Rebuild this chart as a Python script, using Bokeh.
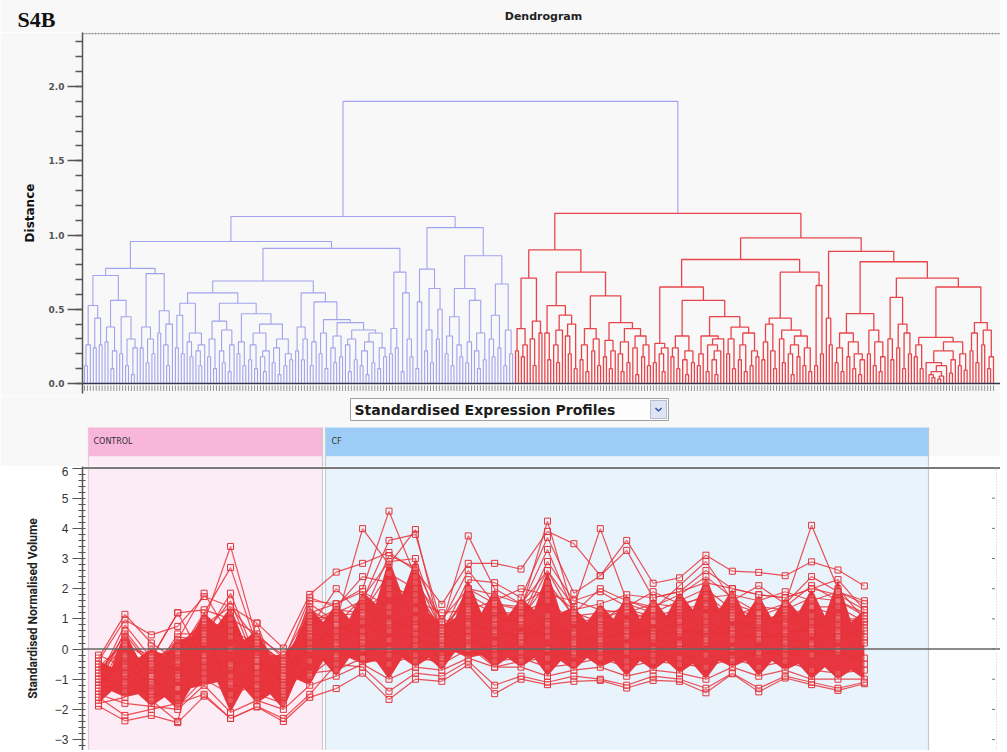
from bokeh.plotting import figure
from bokeh.layouts import column, row
from bokeh.models import FixedTicker, Span, Range1d, PrintfTickFormatter
from bokeh.embed import file_html
from bokeh.resources import INLINE
from bokeh.core.properties import value

# ---------------- DATA: dendrogram, merge height between adjacent leaves ----------------
blue_s1 = [0.12, 0.26, 0.525, 0.24, 0.44, 0.26]
blue_s2 = [0.28, 0.38, 0.10, 0.22, 0.56, 0.20, 0.45, 0.12, 0.30, 0.06, 0.24]
blue_s3 = [0.24, 0.38, 0.14, 0.30, 0.20, 0.74, 0.34, 0.49, 0.26, 0.12, 0.40]
blue_s4 = [0.24, 0.46, 0.20, 0.54, 0.28, 0.18, 0.34, 0.22, 0.12, 0.26]
blue_s5 = [0.18, 0.30, 0.10, 0.42, 0.22, 0.14, 0.36, 0.08, 0.26, 0.54, 0.20, 0.28, 0.12, 0.47,
           0.16, 0.26, 0.10, 0.34, 0.18, 0.08, 0.22, 0.40, 0.14, 0.24, 0.06, 0.30, 0.12, 0.20, 0.16]
blue_s6 = [0.22, 0.38, 0.16, 0.30, 0.61, 0.12, 0.28, 0.55, 0.20, 0.34, 0.10, 0.43, 0.24, 0.14,
           0.32, 0.18, 0.41, 0.26, 0.08, 0.30, 0.16, 0.36, 0.12, 0.22, 0.06, 0.28, 0.14, 0.34,
           0.10, 0.24, 0.18]
blue_s7 = [0.20, 0.37, 0.24, 0.75, 0.08, 0.61, 0.30, 0.18]
blue_s8 = [0.10, 0.55, 0.77, 0.22, 0.36, 0.14, 0.64, 0.30, 0.50]
blue_s9 = [0.20, 0.32, 0.12, 0.45, 0.26, 0.18, 0.64, 0.14, 0.28, 0.56, 0.22, 0.10, 0.34, 0.16,
           0.86, 0.30, 0.18, 0.46, 0.24, 0.67, 0.12, 0.36, 0.20]
blue_joins = [0.727, 0.775, 0.956, 0.61, 0.69, 0.91, 1.125, 1.05]

root_height = 1.90

red_s1 = [0.22, 0.37, 0.18, 0.26]
red_s2 = [0.30, 0.12, 0.42, 0.34]
red_s3 = [0.34, 0.16]
red_s4 = [0.26, 0.14, 0.36, 0.46, 0.32, 0.20, 0.40, 0.10]
red_s5 = [0.16, 0.26, 0.08, 0.37, 0.22, 0.30, 0.12]
red_s6 = [0.18, 0.29, 0.10, 0.22]
red_s7 = [0.20, 0.08, 0.28, 0.14, 0.37, 0.24, 0.06, 0.32, 0.18, 0.26, 0.12]
red_s8 = [0.14, 0.27, 0.20, 0.08, 0.24]
red_s9 = [0.18, 0.24, 0.10, 0.32, 0.16, 0.06, 0.22, 0.14]
red_s10 = [0.12, 0.20, 0.32, 0.08, 0.26, 0.16, 0.06, 0.22, 0.30]
red_s11 = [0.20, 0.30, 0.10, 0.38, 0.16, 0.26, 0.08, 0.34, 0.12, 0.22, 0.18]
red_s12 = [0.16, 0.28, 0.40, 0.22, 0.10, 0.44, 0.30, 0.14, 0.36, 0.20, 0.06, 0.26, 0.18, 0.32,
           0.12, 0.24, 0.08]
red_s13 = [0.12, 0.66, 0.20]
red_s14 = [0.44, 0.26]
red_s15 = [0.14, 0.24, 0.08, 0.34, 0.18, 0.28, 0.10, 0.20, 0.06, 0.16]
red_s16 = [0.20, 0.36, 0.12, 0.28, 0.08, 0.18]
red_s17 = [0.30, 0.16, 0.58, 0.24, 0.40, 0.10, 0.34, 0.20]
red_s18 = [0.18, 0.26, 0.10, 0.31, 0.14, 0.06, 0.04, 0.08, 0.03, 0.05, 0.12, 0.22, 0.07, 0.16,
           0.28, 0.12, 0.20, 0.09]
red_s19 = [0.22, 0.34, 0.14, 0.41, 0.26, 0.36, 0.10, 0.18]
red_joins = [0.71, 0.90, 0.525, 0.75, 0.59, 0.41, 1.145, 0.65, 0.56, 0.45, 0.835, 0.75, 0.98,
             0.89, 0.47, 0.82, 0.71, 0.65]

# ---------------- DATA: standardised expression profiles ----------------
groups = ["CONTROL", "CF"]
n_control = 9
n_cf = 21

core_hi = [-0.4, 0.6, 0.0, 0.3, 1.2, 1.4, 0.6, -0.2, 1.4, 1.5, 1.9, 3.0, 3.0, 0.8, 2.3, 2.0, 1.7,
           2.6, 1.4, 1.5, 1.8, 1.7, 1.9, 2.4, 2.0, 1.8, 1.7, 2.0, 2.3, 1.3]
core_lo = [-1.8, -1.6, -1.9, -2.0, -1.2, -2.1, -1.8, -2.0, -1.2, -0.9, -0.5, -1.0, -0.6, -0.7,
           -0.3, -0.6, -0.6, -0.9, -0.7, -0.6, -0.9, -0.7, -0.8, -1.0, -0.6, -0.9, -0.7, -1.0,
           -1.0, -1.0]
mid_hi = [-0.6, -0.3, -0.2, 0.4, 0.8, 0.3, -0.2, 0.3, 0.9, 1.0, 1.5, 1.8, 1.2, 1.0, 1.2, 1.1, 1.3,
          1.2, 0.9, 1.0, 1.0, 1.1, 1.3, 1.3, 1.1, 1.0, 1.2, 1.1, 0.9]
mid_lo = [-1.4, -1.5, -1.6, -1.3, -1.1, -1.3, -1.5, -1.0, -0.4, -0.3, -0.4, -0.3, -0.3, -0.1,
          -0.2, -0.3, -0.3, -0.4, -0.3, -0.4, -0.4, -0.4, -0.5, -0.4, -0.4, -0.4, -0.5, -0.6,
          -0.7]

profiles = [
    [-0.6, 0.2, -0.4, 0.1, 0.9, 3.4, 0.3, -0.5, 1.2, 1.5, 2.0, 4.57, 2.4, 0.6, 1.4, 0.9, 1.0, 2.2,
     1.1, 1.2, 1.3, 0.9, 1.2, 1.4, 1.0, 0.8, 0.9, 1.4, 1.1, 0.8],
    [-0.9, 0.5, -0.6, -0.2, 1.2, 2.7, 0.1, -0.8, 1.5, 0.9, 3.99, 2.8, 3.96, 0.4, 2.0, 1.5, 1.3,
     4.24, 1.2, 0.9, 1.5, 1.2, 1.6, 2.0, 1.3, 1.1, 1.4, 2.1, 1.6, 1.2],
    [-1.2, -0.3, -1.0, -0.8, 0.4, 1.85, -0.4, -1.1, 0.8, 1.2, 1.6, 3.6, 3.8, 0.8, 3.75, 2.0, 1.5,
     2.6, 1.4, 3.99, 1.6, 1.4, 1.8, 2.4, 1.7, 1.2, 1.5, 4.1, 2.0, 1.0],
    [-0.4, 0.97, 0.47, 0.75, 1.74, 1.4, 0.86, 0.03, 1.81, 2.55, 2.84, 3.2, 2.6, 1.48, 2.84, 2.84,
     2.65, 3.9, 3.49, 2.43, 3.6, 2.18, 2.36, 3.11, 2.58, 2.54, 2.43, 2.89, 2.62, 2.09],
    [-1.89, -2.38, -2.2, -2.44, -1.56, -2.3, -1.92, -2.4, -1.6, -1.31, -0.8, -1.67, -1.0, -1.07,
     -0.52, -1.48, -1.0, -1.18, -1.07, -1.04, -1.29, -1.04, -1.07, -1.45, -0.82, -1.42, -0.96,
     -1.18, -1.37, -1.15],
    [-1.0, 0.8, -0.3, 1.2, 1.3, 1.0, 0.5, -0.3, 1.3, 0.8, 1.7, 2.9, 3.0, 0.5, 2.3, 2.2, 1.7, 3.7,
     1.85, 2.43, 3.27, 1.7, 1.9, 2.6, 2.0, 1.8, 1.7, 2.0, 2.3, 1.3],
    [-1.5, -1.8, -1.9, -2.0, -1.2, -2.1, -1.7, -2.0, -1.2, -0.9, -0.5, -1.0, -0.6, -0.7, -0.3,
     -0.6, -0.6, -0.9, -0.7, -0.6, -0.9, -0.7, -0.8, -1.0, -0.6, -0.9, -0.7, -1.0, -1.0, -1.0],
    [-1.1, -0.5, -1.2, -1.0, 0.2, 0.0, -0.8, -1.3, 0.5, 0.4, 0.6, 1.2, 1.0, 0.2, 0.9, 0.5, 0.5,
     1.1, 0.3, 0.4, 0.5, 0.6, 0.5, 0.9, 0.6, 0.4, 0.5, 0.7, 0.8, 0.3],
    [-0.7, 0.2, -0.8, -0.5, 0.8, 1.4, 0.3, -0.6, 1.0, 1.1, 1.2, 2.0, 1.8, 0.7, 1.6, 1.2, 1.2, 1.6,
     0.9, 1.0, 1.3, 1.1, 1.3, 1.5, 1.2, 1.0, 1.1, 1.4, 1.4, 0.9],
    [-1.3, -1.2, -1.5, -1.6, -0.6, -1.2, -1.3, -1.6, -0.4, -0.3, 0.0, -0.2, 0.1, -0.2, 0.3, 0.0,
     -0.1, 0.0, -0.2, -0.1, -0.1, 0.0, 0.1, 0.2, 0.0, -0.2, 0.0, 0.1, -0.1, -0.3],
    [-1.7, -0.9, -1.6, -1.3, -0.3, -0.6, -1.5, -1.8, 0.2, 0.6, 0.9, 0.3, 0.5, -0.4, 0.6, 0.2, 0.8,
     0.4, 0.6, 0.2, 0.1, 0.9, 0.7, 0.4, 1.0, 0.6, 0.3, 0.2, 0.5, 0.6],
    [-0.3, 1.15, 0.2, -0.4, 0.6, 0.8, -0.2, -0.9, 1.6, 1.5, 1.9, 1.4, 2.2, 1.0, 2.0, 1.8, 1.5, 2.0,
     1.3, 1.5, 1.8, 1.7, 1.9, 2.2, 2.0, 1.8, 1.7, 2.0, 1.8, 1.3],
    [-1.6, -2.2, -2.0, -1.8, -1.5, -2.3, -1.9, -2.3, -1.5, -0.5, -0.6, -1.4, -0.8, -0.9, -0.4,
     -1.2, -0.9, -1.1, -0.9, -1.0, -1.2, -0.9, -1.0, -1.3, -0.8, -1.3, -0.9, -1.1, -1.3, -1.1],
    [-0.9, -1.4, -0.3, 1.2, -0.4, -0.9, 0.86, -1.5, 0.4, 0.1, -0.3, 0.8, 0.3, 0.1, 0.4, -0.2, 0.3,
     0.6, 0.1, 0.3, 0.6, 0.3, 0.2, 0.7, 0.3, 0.5, 0.2, 0.9, 0.6, 0.4],
    [-1.4, 0.4, -1.7, -2.4, 0.9, -1.7, -0.6, -0.5, 1.1, 0.2, 1.4, 0.6, 0.8, 0.9, 1.1, 0.8, 0.2,
     0.9, 0.5, 0.8, 0.4, 0.5, 1.0, 0.3, 0.7, 0.9, 1.2, 0.5, 0.3, 0.7],
    [-0.2, -0.6, -1.1, -1.3, -0.8, 1.2, -1.0, -1.4, 0.6, 1.0, 0.3, 1.8, 1.3, 0.4, 1.2, 1.0, 0.9,
     2.6, 1.0, 0.7, 0.9, 1.3, 0.9, 1.1, 1.5, 1.2, 0.8, 1.1, 1.0, 1.0],
    [-1.8, -1.6, -0.9, -1.9, -1.0, -1.5, -1.2, -1.0, -0.8, -0.7, -0.3, -0.5, -0.2, -0.5, 0.0, -0.4,
     -0.3, -0.6, -0.5, -0.3, -0.6, -0.4, -0.5, -0.6, -0.3, -0.6, -0.4, -0.7, -0.8, -0.7],
    [-1.2, 0.6, -0.5, 0.3, 1.85, 0.4, -0.3, -1.2, 0.9, 1.3, 1.2, 2.5, 2.0, 0.6, 1.8, 1.3, 1.0, 2.9,
     1.6, 1.3, 1.2, 1.5, 1.4, 1.8, 1.1, 1.4, 1.3, 1.7, 1.6, 1.1],
    [-1.0, -1.1, 0.1, -0.9, -0.2, -0.5, -0.4, -0.7, 0.0, 0.8, 0.4, 0.9, 0.7, 0.3, 0.8, 0.6, 0.4,
     0.8, 0.2, 0.6, 0.8, 0.4, 0.6, 0.6, 0.5, 0.3, 0.6, 0.6, 0.4, 0.2],
    [-0.5, -0.8, -1.4, 0.4, 0.3, -1.1, 0.4, -0.2, -0.9, -0.2, 0.2, 0.0, -0.4, -0.3, 0.1, -0.6,
     -0.4, -0.3, -0.1, 0.0, -0.4, -0.2, -0.3, -0.2, -0.4, -0.1, -0.2, -0.2, 0.0, -0.5],
    [-0.8, 0.1, -0.2, -0.1, 1.0, 0.6, 0.2, -0.4, 1.7, 1.4, 2.4, 2.2, 1.6, 1.2, 1.3, 1.6, 2.0, 1.8,
     1.6, 1.9, 1.4, 1.9, 1.5, 1.7, 1.8, 1.6, 1.9, 1.6, 1.9, 1.6],
    [-1.3, -0.2, -0.9, 0.5, 0.5, 1.6, -0.6, -0.9, 0.7, 2.0, 1.1, 3.1, 2.7, 0.9, 2.6, 1.5, 1.4, 3.3,
     1.2, 2.0, 1.6, 1.3, 2.1, 2.9, 1.6, 2.1, 1.5, 2.4, 1.9, 1.5],
]

dist_ticks = [0.0, 0.5, 1.0, 1.5, 2.0]
vol_ticks = [-3, -2, -1, 0, 1, 2, 3, 4, 5, 6]

# ---------------- build dendrogram ----------------
def assemble(segs, joins):
    out = []
    for i, s in enumerate(segs):
        out += s
        if i < len(joins):
            out.append(joins[i])
    return out

blue_gaps = assemble([blue_s1, blue_s2, blue_s3, blue_s4, blue_s5, blue_s6, blue_s7, blue_s8,
                      blue_s9], blue_joins)
red_gaps = assemble([red_s1, red_s2, red_s3, red_s4, red_s5, red_s6, red_s7, red_s8, red_s9,
                     red_s10, red_s11, red_s12, red_s13, red_s14, red_s15, red_s16, red_s17,
                     red_s18, red_s19], red_joins)
gaps = blue_gaps + [root_height] + red_gaps
n_leaves = len(gaps) + 1
n_blue = len(blue_gaps) + 1

bxs, bys, rxs, rys = [], [], [], []

def build(lo, hi):
    if lo == hi:
        return float(lo), 0.0
    k = max(range(lo, hi), key=lambda j: gaps[j])
    lx, lh = build(lo, k)
    rx, rh = build(k + 1, hi)
    h = gaps[k]
    if lo < n_blue:
        bxs.append([lx, lx, rx, rx]); bys.append([lh, h, h, rh])
    else:
        rxs.append([lx, lx, rx, rx]); rys.append([lh, h, h, rh])
    return (lx + rx) / 2.0, h

build(0, n_leaves - 1)

W = 1000
LB = 82
BG = "#f8f8f8"
TOP = 32          # height of the title strip

# ---- title strip (two small canvases side by side) ----
def strip(width, x0, x1):
    f = figure(width=width, height=TOP, output_backend="svg", toolbar_location=None,
               x_axis_type=None, y_axis_type=None, x_range=Range1d(x0, x1),
               y_range=Range1d(0, TOP), min_border_left=0, min_border_right=0,
               min_border_top=0, min_border_bottom=0, background_fill_color=BG,
               border_fill_color=BG, outline_line_color=None)
    f.grid.visible = False
    return f

p0a = strip(LB, 0, LB)
p0a.text(x=[17], y=[TOP - 31.5], text=["S4B"], text_font=value("Liberation Serif"),
         text_font_size="22px", text_font_style="bold", text_color="#111111",
         text_align="left", text_baseline="bottom")
p0b = strip(W - LB, LB, W)
p0b.text(x=[543], y=[TOP - 16], text=["Dendrogram"], text_font=value("DejaVu Sans"),
         text_font_size="11px", text_font_style="bold", text_color="#222222",
         text_align="center", text_baseline="middle")

# ---- dendrogram ----
ppl = (993 - 84) / (n_leaves - 1)     # pixels per leaf
ppu = 148.5                           # pixels per distance unit
p1 = figure(width=W, height=396 - TOP, output_backend="svg", toolbar_location=None,
            x_axis_type=None, x_range=Range1d((LB - 84) / ppl, (W - 84) / ppl),
            y_range=Range1d(-10 / ppu, (383 - TOP) / ppu),
            min_border_left=LB, min_border_right=0, min_border_top=0, min_border_bottom=3,
            background_fill_color=BG, border_fill_color=BG, outline_line_color=None)
p1.grid.visible = False
p1.multi_line(bxs, bys, line_color="#a2a2ee", line_width=1.1)
p1.multi_line(rxs, rys, line_color="#e8454b", line_width=1.3)
leaf_x = list(range(n_leaves))
p1.segment(x0=leaf_x, y0=[-0.014] * n_leaves, x1=leaf_x, y1=[-0.05] * n_leaves,
           line_color="#777777", line_width=0.8)
p1.add_layout(Span(location=0, dimension="width", line_color="#34344f", line_width=1.6))
p1.add_layout(Span(location=(383 - TOP - 1) / ppu, dimension="width", line_color="#8a8a8a",
                   line_width=1.3, line_dash="2 1"))
ya = p1.yaxis[0]
ya.ticker = FixedTicker(ticks=dist_ticks, minor_ticks=[round(0.1 * k, 1) for k in range(0, 24)])
ya.formatter = PrintfTickFormatter(format="%.1f")
ya.major_label_text_font = "DejaVu Sans"
ya.major_label_text_font_size = "9px"
ya.major_label_text_font_style = "bold"
ya.major_label_text_color = "#555555"
ya.major_tick_out = 15
ya.major_tick_in = 0
ya.minor_tick_out = 7
ya.minor_tick_in = 0
ya.axis_line_color = "#555555"
ya.axis_line_width = 1.5
ya.major_tick_line_color = "#555555"
ya.minor_tick_line_color = "#555555"
ya.major_tick_line_width = 1.3
ya.minor_tick_line_width = 1.3
ya.major_label_standoff = 3
ya.axis_label = "Distance"
ya.axis_label_text_font = "DejaVu Sans"
ya.axis_label_text_font_size = "12px"
ya.axis_label_text_font_style = "bold"
ya.axis_label_text_color = "#111111"
ya.axis_label_standoff = 9

# ---------------- profiles panel ----------------
step = 26.41
def sx(px):
    return (px - 98) / step

xr2 = Range1d(sx(LB), sx(W))
ctrl_l, ctrl_r = sx(88), sx(322)
cf_l, cf_r = sx(325), sx(928)

pm = figure(width=W, height=70, output_backend="svg", toolbar_location=None,
            x_axis_type=None, y_axis_type=None, x_range=xr2, y_range=Range1d(0, 70),
            min_border_left=LB, min_border_right=0, min_border_top=0, min_border_bottom=0,
            background_fill_color=BG, border_fill_color=BG, outline_line_color=None)
pm.grid.visible = False
pm.quad(left=sx(350), right=sx(668), bottom=466 - 420, top=466 - 398,
        fill_color="#fdfdfd", line_color="#a0a0a0", line_width=1)
pm.quad(left=sx(650), right=sx(666), bottom=466 - 418, top=466 - 400,
        fill_color="#dde4f4", line_color="#b4bccc", line_width=1)
pm.line(x=[sx(655), sx(658), sx(661)], y=[58.5, 55.5, 58.5], line_color="#3a56a8", line_width=1.6)
pm.text(x=[sx(354)], y=[466 - 409], text=["Standardised Expression Profiles"],
        text_font=value("DejaVu Sans"), text_font_size="14px", text_font_style="bold",
        text_color="#1c1c1c", text_align="left", text_baseline="middle")
pm.quad(left=[ctrl_l, cf_l], right=[ctrl_r, cf_r], bottom=[10, 10], top=[39, 39],
        fill_color=["#f8b6da", "#9dcdf6"], line_color=None)
pm.quad(left=[ctrl_l, cf_l], right=[ctrl_r, cf_r], bottom=[0, 0], top=[10, 10],
        fill_color=["#fcecf5", "#e9f3fc"], line_color=None)
pm.quad(left=cf_r, right=sx(W), bottom=0, top=10, fill_color="#ffffff", line_color=None)
pm.text(x=[sx(93), sx(331)], y=[25, 25], text=groups, text_font=value("DejaVu Sans"),
        text_font_size="8px", text_color="#333333", text_align="left", text_baseline="middle")
pm.segment(x0=[ctrl_l, ctrl_r, cf_l, cf_r], y0=[0] * 4, x1=[ctrl_l, ctrl_r, cf_l, cf_r],
           y1=[39] * 4, line_color=["#ecc6da", "#c9ccd2", "#c9ccd2", "#c2c8d0"], line_width=1.2)

p2 = figure(width=W, height=284, output_backend="svg", toolbar_location=None,
            x_axis_type=None, x_range=xr2, y_range=Range1d((648 - 750) / 30.33, 6.05),
            min_border_left=LB, min_border_right=0, min_border_top=0, min_border_bottom=0,
            background_fill_color="#ffffff", border_fill_color="#ffffff",
            outline_line_color=None)
p2.grid.visible = False
p2.quad(left=[ctrl_l, cf_l], right=[ctrl_r, cf_r], bottom=[-10, -10], top=[10, 10],
        fill_color=["#fcecf5", "#e9f3fc"], line_color=None)
p2.segment(x0=[ctrl_l, ctrl_r, cf_l, cf_r], y0=[-10] * 4, x1=[ctrl_l, ctrl_r, cf_l, cf_r],
           y1=[10] * 4, line_color=["#ecc6da", "#c9ccd2", "#c9ccd2", "#c2c8d0"], line_width=1.2)
p2.add_layout(Span(location=6, dimension="width", line_color="#7a7a7a", line_width=2))
p2.add_layout(Span(location=0, dimension="width", line_color="#666666", line_width=1.5))
p2.add_layout(Span(location=sx(996), dimension="height", line_color="#cccccc", line_width=1,
                   line_dash="1 2"))
p2.scatter(x=[sx(993)] * len(vol_ticks), y=vol_ticks, marker="dash", size=3,
           line_color="#777777")

n_samples = n_control + n_cf
cx, chi, clo = [], [], []
for i in range(min(n_samples, len(core_hi), len(core_lo))):
    cx.append(i); chi.append(core_hi[i]); clo.append(core_lo[i])
    if i < len(mid_hi) and i < len(mid_lo) and i < n_samples - 1:
        cx.append(i + 0.5); chi.append(mid_hi[i]); clo.append(mid_lo[i])
p2.varea(x=cx, y1=clo, y2=chi, fill_color="#e6262f", fill_alpha=0.92)

pxs = [list(range(len(pr))) for pr in profiles]
mx = [x for xs in pxs for x in xs]
my = [y for pr in profiles for y in pr]
p2.multi_line(pxs, profiles, line_color="#e8323a", line_alpha=0.85, line_width=1.2)
p2.scatter(x=mx, y=my, marker="square", size=6, line_color="#e0343a", line_width=1,
           fill_color="#ffffff", fill_alpha=0.15)

ya2 = p2.yaxis[0]
ya2.ticker = FixedTicker(ticks=vol_ticks,
                         minor_ticks=[round(-3.4 + 0.2 * k, 1) for k in range(0, 48)])
ya2.major_label_text_font = "Liberation Sans"
ya2.major_label_text_font_size = "12px"
ya2.major_label_text_color = "#333333"
ya2.major_tick_out = 10
ya2.major_tick_in = 2
ya2.minor_tick_out = 4
ya2.minor_tick_in = 3
ya2.axis_line_color = "#555555"
ya2.axis_line_width = 1.5
ya2.major_tick_line_color = "#555555"
ya2.minor_tick_line_color = "#555555"
ya2.major_label_standoff = 4
ya2.axis_label = "Standardised Normalised Volume"
ya2.axis_label_text_font = "Roboto"
ya2.axis_label_text_font_size = "12px"
ya2.axis_label_text_font_style = "bold"
ya2.axis_label_text_color = "#222222"
ya2.axis_label_standoff = 12

layout = column(row(p0a, p0b, spacing=0), p1, pm, p2, spacing=0)
open("out.html", "w").write(file_html(layout, INLINE))
